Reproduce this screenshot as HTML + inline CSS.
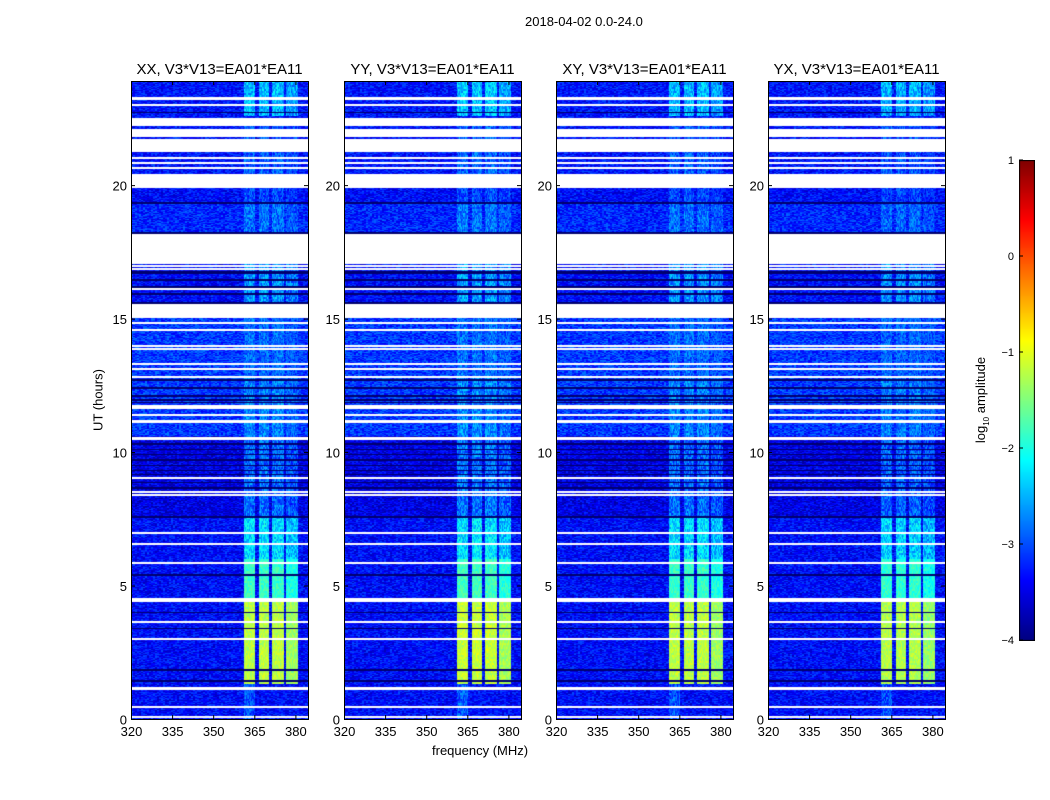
<!DOCTYPE html>
<html><head><meta charset="utf-8"><style>
body{margin:0;background:#fff;font-family:"Liberation Sans",sans-serif}
#root{position:relative;width:1050px;height:800px;overflow:hidden}
.t{position:absolute;font-size:13px;color:#000;white-space:nowrap}
canvas{position:absolute}
</style></head><body>
<div id="root">
<div class="t" style="left:525px;top:14px">2018-04-02 0.0-24.0</div>
<div class="t" style="left:432px;top:743px">frequency (MHz)</div>
<div class="t" style="left:98px;top:400px;transform:translate(-50%,-50%) rotate(-90deg)">UT (hours)</div>
<div class="t" style="left:982px;top:400px;transform:translate(-50%,-50%) rotate(-90deg)">log<sub style="font-size:8px">10</sub> amplitude</div>
<canvas id="cb" width="16" height="481" style="left:1019px;top:160px"></canvas>
<svg id="ov" width="1050" height="800" style="position:absolute;left:0;top:0"></svg>
</div>
<script>
// ---- data ----
const panelTitles=["XX, V3*V13=EA01*EA11","YY, V3*V13=EA01*EA11","XY, V3*V13=EA01*EA11","YX, V3*V13=EA01*EA11"];
const panelGain=[0,0.05,0,-0.05];
const xTicks=[320,335,350,365,380];
const yTicks=[0,5,10,15,20];
const cbTicks=[1,0,-1,-2,-3,-4];
// flagged (white) time intervals, hours
const flagged=[[23.22,23.27],[23.0,23.03],[22.47,22.51],[22.4,22.44],[22.25,22.36],[21.95,22.1],[21.84,21.88],[21.27,21.72],[21.01,21.05],[20.82,20.86],[20.64,20.67],[19.93,20.41],[17.08,18.13],[16.95,16.98],[16.83,16.87],[16.08,16.12],[15.06,15.54],[14.81,14.85],[14.55,14.59],[13.95,13.99],[13.84,13.88],[13.28,13.32],[13.09,13.13],[12.79,12.83],[11.71,11.74],[11.63,11.67],[11.37,11.4],[11.12,11.19],[10.48,10.56],[9.0,9.04],[8.48,8.52],[8.37,8.41],[6.95,6.99],[6.54,6.57],[5.82,5.86],[4.42,4.5],[3.62,3.66],[2.98,3.01],[1.12,1.19],[0.43,0.47],[0.06,0.09]];
// dark (near-zero) time rows, hours
const darkRows=[22.73,19.33,19.30,18.2,16.74,16.7,16.44,16.18,15.92,15.58,12.7,12.4,12.1,11.95,11.85,10.3,10.1,9.9,9.7,9.5,9.3,9.15,8.85,8.65,7.57,7.54,5.39,4.0,3.4,1.83,1.42];
// background level segments [start,end,log10 amp]
const bgLevels=[[0,7.6,-3.35],[7.6,10.6,-3.5],[10.6,15.5,-3.1],[15.5,17.1,-3.35],[18.1,19.3,-3.2],[19.3,20.0,-3.35],[20.0,24,-3.3]];
// RFI columns [fstart,fend] MHz
const rfiCols=[[361.1,365.2],[366.6,370.5],[371.4,375.7],[376.6,380.9]];
// RFI level segments [start,end,log10 amp]
const rfiLevels=[[0,1.3,-3.0],[1.3,4.42,-1.2],[4.5,6.0,-1.85],[6.0,7.6,-2.3],[7.6,10.6,-2.85],[10.6,12.8,-2.75],[12.8,15.5,-2.9],[15.5,17.1,-2.65],[18.1,19.3,-2.85],[19.3,20.0,-3.05],[20.4,22.5,-2.95],[22.6,24,-2.45]];
// ---- layout ----
const panelX=[131,344,556,768], PW=177, PT=81, PB=719;
const fMin=320, fMax=384.6, hMax=23.9;
const xs=(f,i)=>panelX[i]+(f-fMin)/(fMax-fMin)*PW;
const ys=h=>PB-(h/hMax)*(PB-PT);
function jet(v){let t=Math.max(0,Math.min(1,(v+4)/5));
 const c=x=>Math.max(0,Math.min(1,x));
 return [c(1.5-Math.abs(4*t-3)),c(1.5-Math.abs(4*t-2)),c(1.5-Math.abs(4*t-1))].map(x=>Math.round(x*255));}
function hash(a,b,c){let n=(a*374761393+b*668265263+c*2147483647)|0;n=(n^(n>>>13))*1274126177;n=n^(n>>>16);return ((n>>>0)%10000)/10000;}
const root=document.getElementById('root');
const ov=document.getElementById('ov');
const NS='http://www.w3.org/2000/svg';
function seg(arr,h){for(const s of arr)if(h>=s[0]&&h<s[1])return s[2];return null;}
panelTitles.forEach((title,i)=>{
 const cv=document.createElement('canvas');
 cv.width=PW;cv.height=PB-PT;cv.style.left=panelX[i]+'px';cv.style.top=PT+'px';
 
 
 root.insertBefore(cv,ov);
 const ctx=cv.getContext('2d');const img=ctx.createImageData(PW,PB-PT);
 for(let y=0;y<PB-PT;y++){
  const h=(PB-PT-y-0.5)/(PB-PT)*hMax;
  let white=flagged.some(f=>h>=f[0]-0.02&&h<=f[1]+0.02);
  let dark=darkRows.some(d=>Math.abs(h-d)<0.025);
  const bg=seg(bgLevels,h);const rl=seg(rfiLevels,h);
  for(let x=0;x<PW;x++){
   const f=fMin+(x+0.5)/PW*(fMax-fMin);
   let rgb;
   if(white||(bg===null&&!dark)){rgb=[255,255,255];}
   else if(dark){rgb=[0,0,110];}
   else{
    let v=bg+(hash(x>>1,y,i)-0.5)*0.7;
    if(rl!==null){for(let k=0;k<rfiCols.length;k++){const c=rfiCols[k];
      if(f>=c[0]&&f<=c[1]){let l=rl+panelGain[i]-(h<1.3&&k>0?1:0)-(k==3?0.15:0);v=Math.max(v,l+(hash(x,y>>1,i+7)-0.5)*(rl>-2?0.45:0.8));}}}
    rgb=jet(v);
   }
   const p=(y*PW+x)*4;img.data[p]=rgb[0];img.data[p+1]=rgb[1];img.data[p+2]=rgb[2];img.data[p+3]=255;
  }
 }
 ctx.putImageData(img,0,0);
 const r=document.createElementNS(NS,'rect');
 r.setAttribute('x',panelX[i]+0.5);r.setAttribute('y',PT+0.5);r.setAttribute('width',PW);r.setAttribute('height',PB-PT);
 r.setAttribute('fill','none');r.setAttribute('stroke','#000');
 
 
 ov.appendChild(r);
 const tt=document.createElementNS(NS,'text');
 tt.setAttribute('x',panelX[i]+PW/2);tt.setAttribute('y',74);tt.setAttribute('text-anchor','middle');tt.setAttribute('font-size','15');tt.setAttribute('font-family','Liberation Sans');
 tt.textContent=title;
 
 
 ov.appendChild(tt);
 xTicks.forEach(v=>{const x=xs(v,i)+0.5;
  [[PB,PB-4],[PT,PT+4]].forEach(p=>{const l=document.createElementNS(NS,'line');l.setAttribute('x1',x);l.setAttribute('x2',x);l.setAttribute('y1',p[0]);l.setAttribute('y2',p[1]);l.setAttribute('stroke','#000');ov.appendChild(l);});
  const t=document.createElementNS(NS,'text');t.setAttribute('x',x);t.setAttribute('y',736);t.setAttribute('text-anchor','middle');t.setAttribute('font-size','13');t.setAttribute('font-family','Liberation Sans');t.textContent=v;
  
  
  ov.appendChild(t);});
 yTicks.forEach(v=>{const y=ys(v)+0.5;
  [[panelX[i],panelX[i]+4],[panelX[i]+PW,panelX[i]+PW-4]].forEach(p=>{const l=document.createElementNS(NS,'line');l.setAttribute('x1',p[0]);l.setAttribute('x2',p[1]);l.setAttribute('y1',y);l.setAttribute('y2',y);l.setAttribute('stroke','#000');ov.appendChild(l);});
  const t=document.createElementNS(NS,'text');t.setAttribute('x',panelX[i]-4);t.setAttribute('y',y+5);t.setAttribute('text-anchor','end');t.setAttribute('font-size','13');t.setAttribute('font-family','Liberation Sans');t.textContent=v;
  
  
  ov.appendChild(t);});
});
const cb=document.getElementById('cb').getContext('2d');
for(let y=0;y<481;y++){const v=1-y/480*5;const c=jet(v);cb.fillStyle=`rgb(${c})`;cb.fillRect(0,y,16,1);}
cb.strokeStyle='#000';cb.strokeRect(0.5,0.5,15,480);
cbTicks.forEach(v=>{const y=160+(1-v)/5*480;
 const t=document.createElementNS(NS,'text');t.setAttribute('x',1014);t.setAttribute('y',y+4);t.setAttribute('text-anchor','end');t.setAttribute('font-size','11');t.setAttribute('font-family','Liberation Sans');t.textContent=v<0?'\u2212'+(-v):v;
 
 
 ov.appendChild(t);
 const l=document.createElementNS(NS,'line');l.setAttribute('x1',1019);l.setAttribute('x2',1023);l.setAttribute('y1',y);l.setAttribute('y2',y);l.setAttribute('stroke','#000');ov.appendChild(l);
});
</script>
</body></html>
